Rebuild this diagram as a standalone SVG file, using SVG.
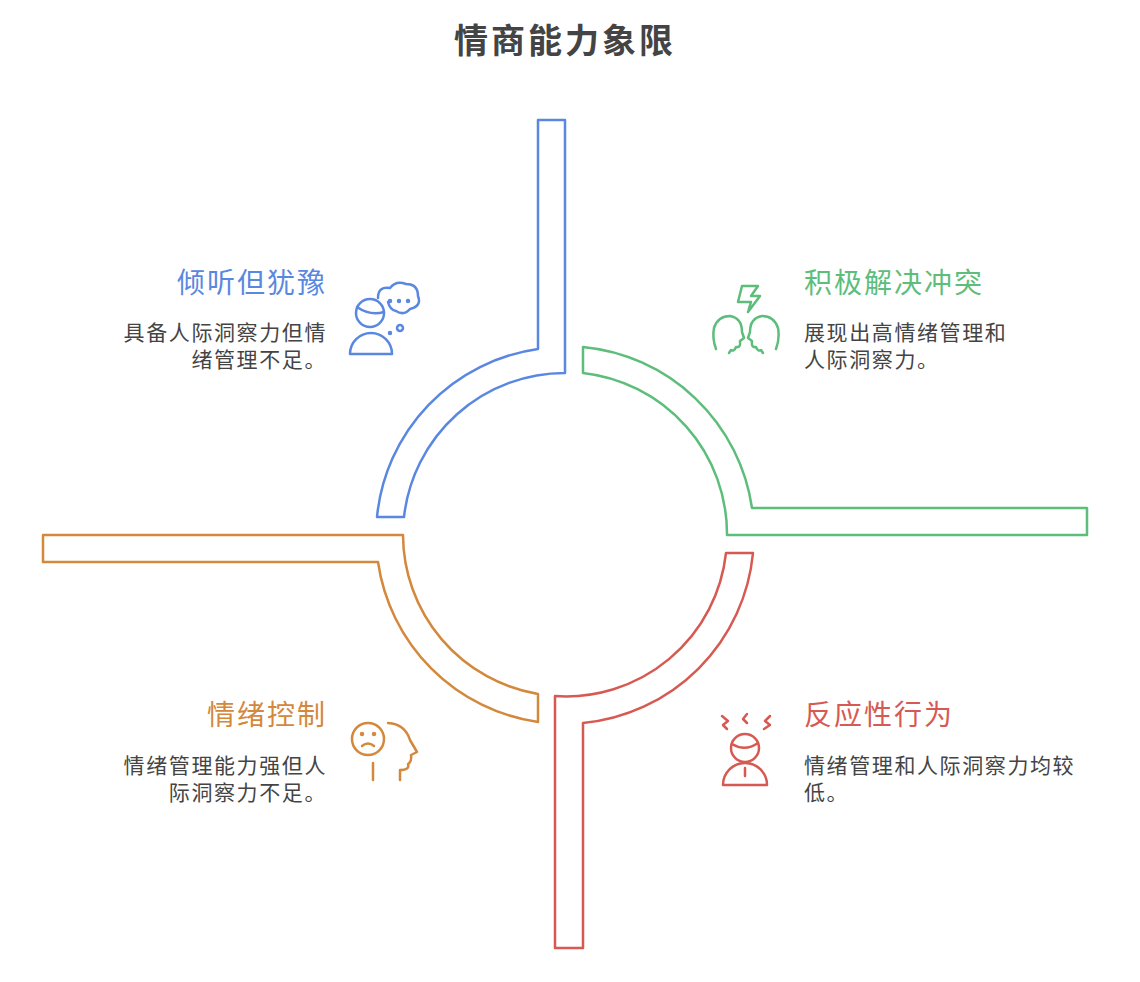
<svg xmlns="http://www.w3.org/2000/svg" width="1140" height="982" viewBox="0 0 1140 982">
<style>
.t{font-family:"Noto Sans CJK SC","Liberation Sans",sans-serif}
.h{font-size:28px;letter-spacing:2px}
.d{font-size:21px;letter-spacing:1.6px;fill:#444}
.s{fill:none;stroke-width:2.5;stroke-linejoin:round}
.i{fill:none;stroke-width:2.5;stroke-linecap:round;stroke-linejoin:round}
.b{stroke:#5a87e0}.g{stroke:#5dbd7b}.o{stroke:#d4883c}.r{stroke:#d65a52}
</style>
<rect width="1140" height="982" fill="#fff"/>
<text class="t" x="565" y="53" text-anchor="middle" font-size="34" letter-spacing="3" font-weight="bold" fill="#444">情商能力象限</text>
<g id="connectors">
<path class="s b" d="M538,120 H565 V373 A162,162 0 0 0 404,517 H377 A188,188 0 0 1 538,349 Z"/>
<path class="s g" d="M583,347 A189,189 0 0 1 752,508 H1087 V535 H727 A162,162 0 0 0 583,373 Z"/>
<path class="s o" d="M43,535 H403 A162,162 0 0 0 538,694 V722 A189,189 0 0 1 378,562 H43 Z"/>
<path class="s r" d="M555,948 V696 A161,161 0 0 0 726,553 H753 A189,189 0 0 1 583,723 V948 Z"/>
</g>
<g id="q1">
<text class="t h" x="327" y="293" text-anchor="end" fill="#5a87e0">倾听但犹豫</text>
<text class="t d" x="327" y="340" text-anchor="end">具备人际洞察力但情</text>
<text class="t d" x="327" y="367" text-anchor="end">绪管理不足。</text>
<g class="i b">
<circle cx="370" cy="313" r="14"/>
<path d="M357,307 Q370,316 384,312"/>
<path d="M350,354 A21,21 0 0 1 392,354 Z"/>
<path d="M378,298 Q378,286 390,288 Q396,280 406,284 Q418,284 418,296 Q422,306 410,309 Q404,316 396,311 Q390,310 388,302"/>
<circle cx="400" cy="328" r="3"/>
<circle cx="390" cy="333" r="1" fill="#5a87e0"/>
<circle cx="390" cy="301" r="1" fill="#5a87e0"/><circle cx="399" cy="301" r="1" fill="#5a87e0"/><circle cx="408" cy="301" r="1" fill="#5a87e0"/>
</g>
</g>
<g id="q2">
<text class="t h" x="804" y="293" fill="#5dbd7b">积极解决冲突</text>
<text class="t d" x="804" y="340">展现出高情绪管理和</text>
<text class="t d" x="804" y="367">人际洞察力。</text>
<g class="i g">
<path d="M742,286 H758 L751,296 H760 L748,312 L751,302 H738 Z"/>
<path d="M716,349 Q712,338 714,328 Q718,316 730,316 Q742,318 742,332 L744,338 L740,341 Q741,348 736,347 Q734,352 731,350 L729,353"/>
<path d="M776,349 Q780,338 778,328 Q774,316 762,316 Q750,318 750,332 L748,338 L752,341 Q751,348 756,347 Q758,352 761,350 L763,353"/>
</g>
</g>
<g id="q3">
<text class="t h" x="327" y="725" text-anchor="end" fill="#d4883c">情绪控制</text>
<text class="t d" x="327" y="773" text-anchor="end">情绪管理能力强但人</text>
<text class="t d" x="327" y="800" text-anchor="end">际洞察力不足。</text>
<g class="i o">
<circle cx="368" cy="739" r="16"/>
<circle cx="362" cy="734" r="1" fill="#d4883c"/><circle cx="374" cy="734" r="1" fill="#d4883c"/>
<path d="M362,746 Q368,741 374,746"/>
<path d="M373,763 V780"/>
<path d="M388,723 Q405,724 410,740 L417,752 L411,755 Q412,762 408,764 Q410,770 400,770 V780"/>
</g>
</g>
<g id="q4">
<text class="t h" x="804" y="725" fill="#d65a52">反应性行为</text>
<text class="t d" x="804" y="773">情绪管理和人际洞察力均较</text>
<text class="t d" x="804" y="800">低。</text>
<g class="i r">
<circle cx="745" cy="748" r="14"/>
<path d="M732,744 Q745,752 758,743"/>
<path d="M723,785 A22,22 0 0 1 767,785 Z"/>
<path d="M745,768 V776"/>
<path d="M722,716 L728,721 L723,725 L727,729"/>
<path d="M747,714 L743,719 L747,723"/>
<path d="M770,716 L765,721 L770,725 L764,729"/>
</g>
</g>
</svg>
